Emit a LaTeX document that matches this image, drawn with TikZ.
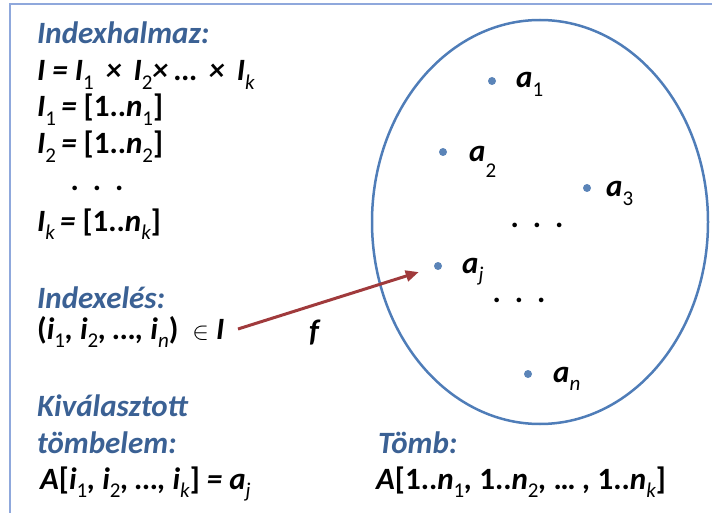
\documentclass[tikz,border=0pt]{standalone}
\usepackage{fontspec}
\setmainfont{Carlito}
\usetikzlibrary{arrows.meta}
\definecolor{framec}{HTML}{8FA8DC}
\definecolor{ellc}{HTML}{4F7DB8}
\definecolor{dotc}{HTML}{5B84B8}
\definecolor{headc}{HTML}{3B6194}
\definecolor{arrc}{HTML}{A03A3C}
\newcommand\lsub[1]{\raisebox{-0.26em}{\fontsize{21}{21}\selectfont\mdseries\upshape #1}}
\newcommand\lsubi[1]{\raisebox{-0.26em}{\fontsize{21}{21}\selectfont\mdseries\itshape #1}}
\newcommand\up[1]{\textup{#1}}
\tikzset{
  txt/.style={anchor=base west, inner sep=0pt, font=\fontsize{31}{37}\selectfont\bfseries\itshape, text=black},
  head/.style={txt, text=headc},
  pt/.style={circle, fill=dotc, draw=none, minimum size=8pt, inner sep=0pt},
  vdots/.style={anchor=center, inner sep=0pt, font=\fontsize{31}{37}\selectfont\bfseries},
  frameline/.style={draw=framec, line width=2.5pt},
  arr/.style={draw=arrc, line width=3pt, -{Triangle[length=13pt,width=11pt]}}
}
\begin{document}
\begin{tikzpicture}[x=1pt,y=-1pt]
\useasboundingbox (0,0) rectangle (712,513);
\draw[frameline] (10,513) -- (10,4) -- (712,4);
% left column
\node[head] (h1) at (37,44) {Indexhalmaz:};
\node[txt] (l1) at (37,81) {I = I\lsub{1} \,×\, I\lsub{2}× … \,×\, I\lsubi{k}};
\node[txt] (l2) at (37,117) {I\lsub{1}\,= \up{[1..}n\lsub{1}\up{]}};
\node[txt] (l3) at (37,154) {I\lsub{2}\,= \up{[1..}n\lsub{2}\up{]}};
\node[vdots] (l4) at (97,188) {.\hspace{0.45em}.\hspace{0.45em}.};
\node[txt] (l5) at (37,231) {I\lsubi{k}\,= \up{[1..}n\lsubi{k}\up{]}};
\node[head] (h2) at (37,308) {Indexelés:};
\node[txt] (idx) at (37,339) {\up{(}i\lsub{1}, i\lsub{2}, …, i\lsubi{n}\up{)} \ $\in$ I};
\node[txt] (f) at (309,341) {f};
\node[head] (h3) at (37,416) {Kiválasztott};
\node[head] (h4) at (37,453) {tömbelem:};
\node[txt] (sel) at (40,489) {A\up{[}i\lsub{1}, i\lsub{2}, …, i\lsubi{k}\up{]} = a\lsubi{j}};
\node[head] (h5) at (378,453) {Tömb:};
\node[txt] (arrdef) at (376,489) {A\up{[1..}n\lsub{1}, \up{1..}n\lsub{2}, \up{…} , \up{1..}n\lsubi{k}\up{]}};
% set
\draw[draw=ellc, line width=2.5pt] (540,222) ellipse [x radius=168, y radius=202];
\node[pt] (d1) at (492,81) {};
\node[pt] (d2) at (443,152) {};
\node[pt] (d3) at (587,188) {};
\node[pt] (dj) at (438,266) {};
\node[pt] (dn) at (528,374) {};
\node[txt] (a1) at (516,88) {a\lsub{1}};
\node[txt] (a2) at (469,162) {a\raisebox{-0.5em}{\fontsize{21}{21}\selectfont\mdseries\upshape 2}};
\node[txt] (a3) at (606,197) {a\lsub{3}};
\node[txt] (aj) at (462,273) {a\lsubi{j}};
\node[txt] (an) at (553,382) {a\lsubi{n}};
\node[vdots] (e1) at (537,225) {.\hspace{0.45em}.\hspace{0.45em}.};
\node[vdots] (e2) at (519,300) {.\hspace{0.45em}.\hspace{0.45em}.};
\coordinate (fstart) at (238,329);
\draw[arr, shorten >=16pt] (fstart) -- (dj);
\end{tikzpicture}
\end{document}
